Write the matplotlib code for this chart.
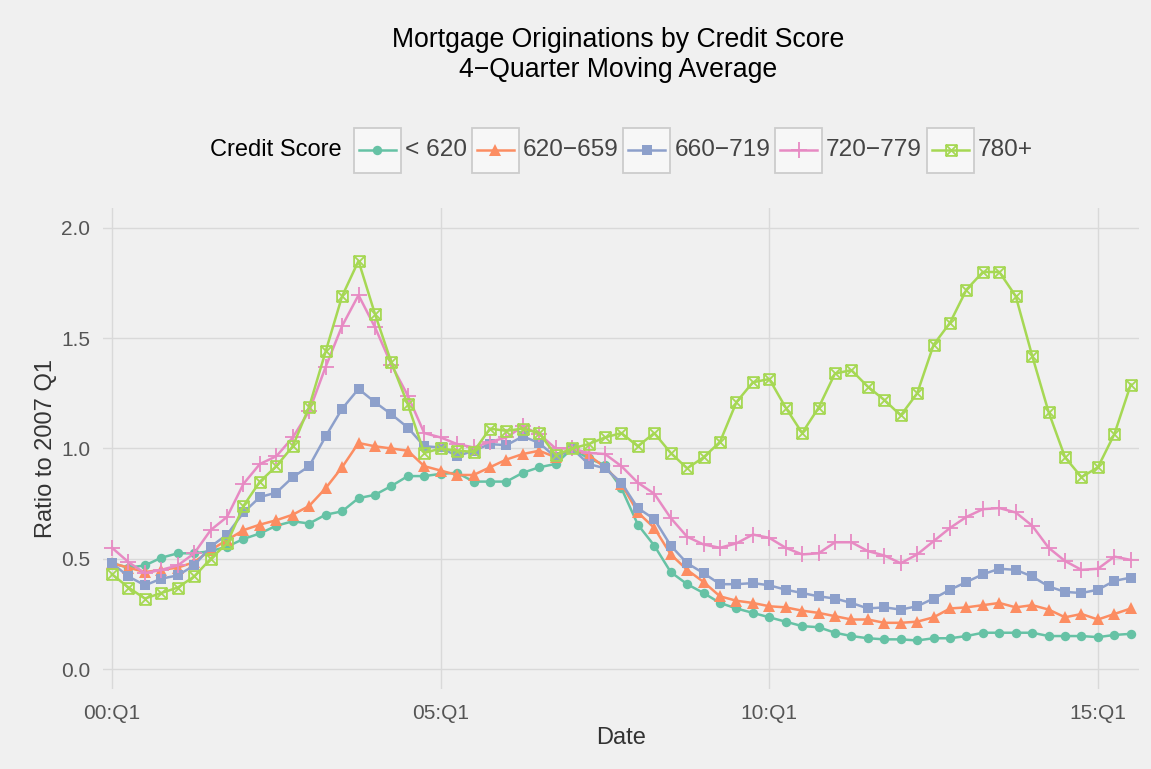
import matplotlib
matplotlib.use("Agg")
import matplotlib.pyplot as plt
from matplotlib.path import Path
from matplotlib.patches import Rectangle
from matplotlib.lines import Line2D

plt.rcParams['font.family'] = ['Liberation Sans', 'DejaVu Sans']

# quarterly data, 2000 Q1 .. 2015 Q3
quarters = list(range(63))
tick_pos = [0, 20, 40, 60]
tick_labels = ["00:Q1", "05:Q1", "10:Q1", "15:Q1"]

labels = ["< 620", "620\u2212659", "660\u2212719", "720\u2212779", "780+"]
colors = ["#66C2A5", "#FC8D62", "#8DA0CB", "#E78AC3", "#A6D854"]

under_620 = [0.48, 0.46, 0.47, 0.505, 0.525, 0.525, 0.535, 0.555, 0.59, 0.615,
             0.65, 0.67, 0.66, 0.70, 0.715, 0.775, 0.79, 0.83, 0.875, 0.875,
             0.885, 0.89, 0.85, 0.85, 0.85, 0.89, 0.915, 0.93, 1.0, 0.955,
             0.925, 0.82, 0.655, 0.56, 0.44, 0.385, 0.345, 0.30, 0.275, 0.255,
             0.235, 0.215, 0.195, 0.19, 0.165, 0.15, 0.14, 0.135, 0.135, 0.13,
             0.14, 0.14, 0.15, 0.165, 0.165, 0.165, 0.165, 0.15, 0.15, 0.15,
             0.145, 0.155, 0.16]
s620_659 = [0.48, 0.46, 0.44, 0.45, 0.46, 0.485, 0.54, 0.585, 0.63, 0.655,
            0.675, 0.70, 0.74, 0.82, 0.915, 1.025, 1.01, 1.00, 0.99, 0.92,
            0.90, 0.88, 0.88, 0.915, 0.95, 0.975, 0.99, 0.96, 1.0, 0.97,
            0.915, 0.84, 0.71, 0.64, 0.52, 0.45, 0.395, 0.33, 0.31, 0.30,
            0.285, 0.28, 0.265, 0.255, 0.24, 0.225, 0.225, 0.21, 0.21, 0.215,
            0.235, 0.275, 0.28, 0.29, 0.30, 0.28, 0.29, 0.27, 0.235, 0.25,
            0.225, 0.25, 0.275]
s660_719 = [0.48, 0.42, 0.38, 0.41, 0.425, 0.47, 0.555, 0.61, 0.71, 0.78,
            0.80, 0.87, 0.92, 1.055, 1.18, 1.27, 1.21, 1.155, 1.095, 1.01,
            1.005, 0.965, 0.99, 1.02, 1.015, 1.055, 1.025, 0.96, 1.0, 0.93,
            0.91, 0.845, 0.73, 0.68, 0.56, 0.48, 0.435, 0.385, 0.385, 0.39,
            0.38, 0.36, 0.345, 0.33, 0.32, 0.30, 0.275, 0.28, 0.27, 0.285,
            0.32, 0.36, 0.395, 0.43, 0.455, 0.45, 0.42, 0.375, 0.35, 0.345,
            0.36, 0.40, 0.415]
s720_779 = [0.55, 0.485, 0.435, 0.45, 0.47, 0.525, 0.63, 0.69, 0.84, 0.93,
            0.965, 1.05, 1.17, 1.37, 1.555, 1.695, 1.55, 1.38, 1.24, 1.07,
            1.05, 1.02, 1.005, 1.03, 1.05, 1.10, 1.065, 1.00, 1.0, 0.98,
            0.975, 0.92, 0.845, 0.795, 0.685, 0.60, 0.565, 0.55, 0.57, 0.61,
            0.595, 0.55, 0.52, 0.525, 0.575, 0.575, 0.535, 0.515, 0.48, 0.52,
            0.58, 0.64, 0.69, 0.725, 0.73, 0.71, 0.65, 0.55, 0.49, 0.45,
            0.455, 0.51, 0.495]
s780_plus = [0.43, 0.37, 0.32, 0.345, 0.37, 0.42, 0.50, 0.57, 0.74, 0.85,
             0.92, 1.01, 1.19, 1.44, 1.69, 1.85, 1.61, 1.39, 1.20, 0.98,
             1.00, 0.99, 0.985, 1.09, 1.08, 1.09, 1.07, 0.97, 1.0, 1.02,
             1.05, 1.07, 1.01, 1.07, 0.98, 0.91, 0.96, 1.03, 1.21, 1.30,
             1.315, 1.185, 1.07, 1.185, 1.34, 1.355, 1.28, 1.22, 1.15, 1.25,
             1.47, 1.57, 1.72, 1.80, 1.80, 1.69, 1.42, 1.165, 0.96, 0.87,
             0.915, 1.065, 1.29]

series = [under_620, s620_659, s660_719, s720_779, s780_plus]

# square with an x inside (R pch 7)
sq_x = Path([(-1, -1), (1, -1), (1, 1), (-1, 1), (-1, -1),
             (-1, -1), (1, 1), (-1, 1), (1, -1)],
            [Path.MOVETO, Path.LINETO, Path.LINETO, Path.LINETO, Path.CLOSEPOLY,
             Path.MOVETO, Path.LINETO, Path.MOVETO, Path.LINETO])

styles = [
    dict(marker='o', ms=6.8, mew=0),
    dict(marker='^', ms=8.5, mew=0),
    dict(marker='s', ms=7.8, mew=0),
    dict(marker='+', ms=12, mew=1.3),
    dict(marker=sq_x, ms=7.8, mew=1.3, mfc='none'),
]

W, H = 1151, 769
bg = '#F0F0F0'
fig = plt.figure(figsize=(W / 100, H / 100), dpi=100, facecolor=bg)
ax = fig.add_axes([103 / W, 1 - 689 / H, (1139 - 103) / W, (689 - 208) / H])
ax.set_facecolor(bg)

for vals, col, st in zip(series, colors, styles):
    ax.plot(quarters, vals, color=col, lw=1.8, mec=col, **st)

ax.set_xlim(-0.55, 62.5)
ax.set_ylim(-0.09, 2.09)
ax.set_xticks(tick_pos)
ax.set_xticklabels(tick_labels)
ax.set_yticks([0, 0.5, 1.0, 1.5, 2.0])
ax.set_yticklabels(["0.0", "0.5", "1.0", "1.5", "2.0"])
ax.tick_params(length=0, labelsize=15, labelcolor='#555555')
ax.tick_params(axis='x', pad=11)
ax.tick_params(axis='y', pad=9)
ax.grid(True, color='#D9D9D9', lw=1.0)
ax.set_axisbelow(True)
for sp in ax.spines.values():
    sp.set_visible(False)

ax.set_xlabel("Date", fontsize=17, color='#333333', labelpad=3)
ax.set_ylabel("Ratio to 2007 Q1", fontsize=17, color='#333333', labelpad=3)

fig.text(618 / W, 1 - 40 / H, "Mortgage Originations by Credit Score",
         ha='center', va='center', fontsize=19.2, color='black')
fig.text(618 / W, 1 - 70 / H, "4\u2212Quarter Moving Average",
         ha='center', va='center', fontsize=19.2, color='black')

# legend, laid out by hand in pixel coordinates
renderer = fig.canvas.get_renderer()
ly = 150
t = fig.text(210 / W, 1 - ly / H, "Credit Score", ha='left', va='center',
             fontsize=17, color='black')
x = t.get_window_extent(renderer).x1 + 12
bw, bh = 47, 45
for lab, col, st in zip(labels, colors, styles):
    fig.add_artist(Rectangle((x / W, 1 - (ly + bh / 2) / H), bw / W, bh / H,
                             transform=fig.transFigure, facecolor='#F7F7F7',
                             edgecolor='#CCCCCC', lw=1.3))
    fig.add_artist(Line2D([(x + 5) / W, (x + bw - 5) / W], [1 - ly / H] * 2,
                          transform=fig.transFigure, color=col, lw=1.8))
    fig.add_artist(Line2D([(x + bw / 2) / W], [1 - ly / H],
                          transform=fig.transFigure, color=col, mec=col,
                          ls='none', **st))
    tt = fig.text((x + bw + 4) / W, 1 - ly / H, lab, ha='left', va='center',
                  fontsize=17.6, color='#444444')
    x = tt.get_window_extent(renderer).x1 + 5

fig.savefig("out.png", dpi=100, facecolor=bg)
